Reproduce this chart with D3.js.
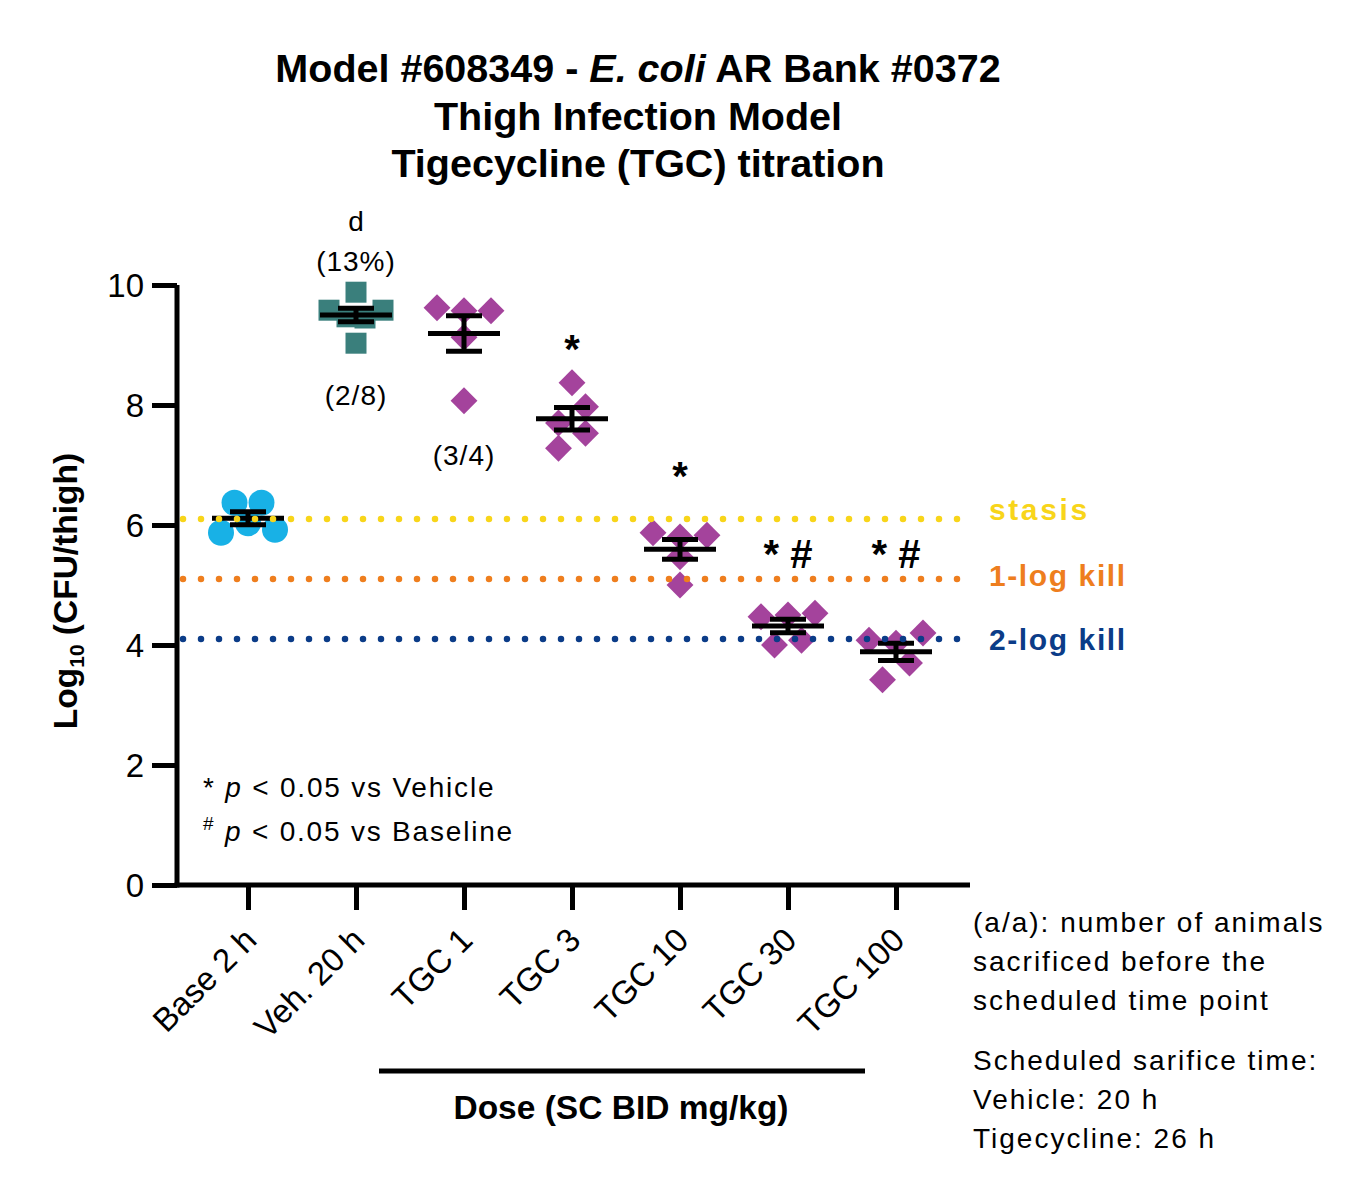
<!DOCTYPE html>
<html>
<head>
<meta charset="utf-8">
<script src="https://cdn.jsdelivr.net/npm/d3@7.9.0/dist/d3.min.js"></script>
<style>
  body { margin: 0; background: #fff; }
  svg text { font-family: "Liberation Sans", Arial, sans-serif; fill: #000; }
</style>
</head>
<body>
<svg id="chart" width="1361" height="1201"></svg>
<script>
// Categories and per-animal log10 CFU values
const groups = ['Base 2 h', 'Veh. 20 h', 'TGC 1', 'TGC 3', 'TGC 10', 'TGC 30', 'TGC 100'];
const base = [6.37, 6.37, 5.87, 6.03, 5.92];
const vehicle = [9.88, 9.58, 9.47, 9.45, 9.58, 9.03];
const tgc1 = [9.62, 9.57, 9.57, 9.13, 8.07];
const tgc3 = [8.37, 7.7, 7.97, 7.28, 7.53];
const tgc10 = [5.87, 5.8, 5.83, 5.47, 5.0];
const tgc30 = [4.47, 4.5, 4.53, 4.0, 4.08];
const tgc100 = [4.08, 4.03, 4.2, 3.42, 3.7];
const seriesValues = [base, vehicle, tgc1, tgc3, tgc10, tgc30, tgc100];
const markerType = ['circle', 'square', 'diamond', 'diamond', 'diamond', 'diamond', 'diamond'];

// reference lines
const refLabels = ['stasis', '1-log kill', '2-log kill'];
const refValues = [6.1, 5.1, 4.1];
const refColors = ['#F8D51A', '#EE7E1E', '#0B3C88'];

// annotations above / below groups
const sigMarks = ['', '', '', '*', '*', '* #', '* #'];
const sigValues = [null, null, null, 8.9, 6.78, 5.48, 5.48];
const earlyLabels = [null, '(2/8)', '(3/4)', null, null, null, null];
const earlyValues = [null, 8.17, 7.17, null, null, null, null];
const yTicks = [0, 2, 4, 6, 8, 10];

const colors = { circle: '#18B1E6', square: '#3A7F7C', diamond: '#A4439C' };

const svg = d3.select('#chart');

const x = d3.scalePoint().domain(groups).range([248, 896]);
const y = d3.scaleLinear().domain([0, 10]).range([885, 285]);

// Title
const title = svg.append('text')
  .attr('x', 638).attr('text-anchor', 'middle')
  .style('font-weight', 'bold').style('font-size', '39.5px');
const t1 = title.append('tspan').attr('x', 638).attr('y', 82);
t1.append('tspan').text('Model #608349 - ');
t1.append('tspan').style('font-style', 'italic').text('E. coli');
t1.append('tspan').text(' AR Bank #0372');
title.append('tspan').attr('x', 638).attr('y', 130).text('Thigh Infection Model');
title.append('tspan').attr('x', 638).attr('y', 177).text('Tigecycline (TGC) titration');

// lay out points in rows the way the scatter columns spread them
function spread(vals, w, maxHalf) {
  const idx = vals.map((v, i) => i).sort((a, b) => vals[b] - vals[a]);
  const rows = [];
  idx.forEach(i => {
    const r = rows[rows.length - 1];
    if (r && vals[r[0]] - vals[i] < 0.29) r.push(i); else rows.push([i]);
  });
  const off = new Array(vals.length).fill(0);
  rows.forEach(r => {
    r.sort((a, b) => a - b);
    const n = r.length;
    const step = n > 1 ? Math.min(w, 2 * maxHalf / (n - 1)) : 0;
    r.forEach((i, k) => off[i] = (k - (n - 1) / 2) * step);
  });
  return off;
}

const symbols = {
  circle: d3.symbol().type(d3.symbolCircle).size(Math.PI * 13 * 13),
  square: d3.symbol().type(d3.symbolSquare).size(21 * 21),
  diamond: d3.symbol().type(d3.symbolSquare).size(19 * 19)
};

// points
seriesValues.forEach((vals, gi) => {
  const off = spread(vals, 27, 27);
  const type = markerType[gi];
  svg.append('g').selectAll('path')
    .data(vals)
    .join('path')
    .attr('d', symbols[type])
    .attr('fill', colors[type])
    .attr('transform', (d, i) => `translate(${x(groups[gi]) + off[i]},${y(d)})` + (type === 'diamond' ? ' rotate(45)' : ''));
});

// mean and SEM bars
seriesValues.forEach((vals, gi) => {
  const m = d3.mean(vals);
  const sem = d3.deviation(vals) / Math.sqrt(vals.length);
  const cx = x(groups[gi]);
  const g = svg.append('g').attr('stroke', '#000').attr('stroke-width', 5);
  g.append('line').attr('x1', cx - 36).attr('x2', cx + 36).attr('y1', y(m)).attr('y2', y(m));
  g.append('line').attr('x1', cx).attr('x2', cx).attr('y1', y(m + sem)).attr('y2', y(m - sem));
  g.append('line').attr('x1', cx - 18).attr('x2', cx + 18).attr('y1', y(m + sem)).attr('y2', y(m + sem));
  g.append('line').attr('x1', cx - 18).attr('x2', cx + 18).attr('y1', y(m - sem)).attr('y2', y(m - sem));
});

// dotted reference lines and labels
const refLabelShift = [1, 7, 11];
refValues.forEach((v, i) => {
  svg.append('line')
    .attr('x1', 183).attr('x2', 970).attr('y1', y(v)).attr('y2', y(v))
    .attr('stroke', refColors[i]).attr('stroke-width', 6.5)
    .attr('stroke-linecap', 'round').attr('stroke-dasharray', '0 18');
  svg.append('text')
    .attr('x', 989).attr('y', y(v) + refLabelShift[i])
    .style('font-weight', 'bold').style('font-size', '30px')
    .style('letter-spacing', i === 0 ? '2.6px' : '1.6px')
    .style('fill', refColors[i])
    .text(refLabels[i]);
});

// axes
const yAxis = svg.append('g')
  .attr('transform', 'translate(177,0)')
  .call(d3.axisLeft(y).tickValues(yTicks).tickSize(25).tickPadding(8));
const xAxis = svg.append('g')
  .attr('transform', 'translate(0,885)')
  .call(d3.axisBottom(x).tickSize(25).tickSizeOuter(0));

[yAxis, xAxis].forEach(a => {
  a.select('.domain').remove();
  a.selectAll('.tick line').attr('stroke', '#000').attr('stroke-width', 5);
});
yAxis.selectAll('.tick text')
  .style('font-size', '33px').attr('dy', '0.35em').attr('fill', '#000');
xAxis.selectAll('.tick text')
  .style('font-size', '33px').attr('fill', '#000')
  .attr('text-anchor', 'end')
  .attr('dy', null).attr('y', null)
  .attr('transform', 'translate(10,57) rotate(-45)');

svg.append('line').attr('x1', 177).attr('x2', 177).attr('y1', 285).attr('y2', 887.5)
  .attr('stroke', '#000').attr('stroke-width', 5);
svg.append('line').attr('x1', 174.5).attr('x2', 970).attr('y1', 885).attr('y2', 885)
  .attr('stroke', '#000').attr('stroke-width', 5);

// y axis title
const yt = svg.append('text')
  .attr('transform', 'translate(77,591) rotate(-90)')
  .attr('text-anchor', 'middle')
  .style('font-weight', 'bold').style('font-size', '33.5px');
yt.append('tspan').text('Log');
yt.append('tspan').style('font-size', '21px').attr('dy', 7).text('10');
yt.append('tspan').attr('dy', -7).text(' (CFU/thigh)');

// dose bracket and label
svg.append('line')
  .attr('x1', x('TGC 1') - 85).attr('x2', x('TGC 100') - 31)
  .attr('y1', 1071).attr('y2', 1071)
  .attr('stroke', '#000').attr('stroke-width', 5);
svg.append('text')
  .attr('x', 621).attr('y', 1119).attr('text-anchor', 'middle')
  .style('font-weight', 'bold').style('font-size', '33.5px')
  .text('Dose (SC BID mg/kg)');

// annotations
svg.append('text').attr('x', x('Veh. 20 h')).attr('y', 231).attr('text-anchor', 'middle')
  .style('font-size', '28px').text('d');
svg.append('text').attr('x', x('Veh. 20 h')).attr('y', 271).attr('text-anchor', 'middle')
  .style('font-size', '28px').style('letter-spacing', '1px').text('(13%)');

earlyLabels.forEach((t, i) => {
  if (!t) return;
  svg.append('text').attr('x', x(groups[i])).attr('y', y(earlyValues[i]) + 10)
    .attr('text-anchor', 'middle').style('font-size', '28px').style('letter-spacing', '1px').text(t);
});
sigMarks.forEach((t, i) => {
  if (!t) return;
  svg.append('text').attr('x', x(groups[i])).attr('y', y(sigValues[i]) + 12)
    .attr('text-anchor', 'middle').style('font-weight', 'bold').style('font-size', '40px')
    .text(t);
});

// significance key
const k1 = svg.append('text').attr('x', 203).attr('y', 797)
  .style('font-size', '28px').style('letter-spacing', '1.8px');
k1.append('tspan').text('* ');
k1.append('tspan').style('font-style', 'italic').text('p');
k1.append('tspan').text(' < 0.05 vs Vehicle');
const k2 = svg.append('text').attr('x', 203).attr('y', 841)
  .style('font-size', '28px').style('letter-spacing', '1.8px');
k2.append('tspan').style('font-size', '19px').attr('dy', -11).text('#');
k2.append('tspan').attr('dy', 11).text(' ');
k2.append('tspan').style('font-style', 'italic').text('p');
k2.append('tspan').text(' < 0.05 vs Baseline');

// footnotes on the right
const notes = [
  ['(a/a): number of animals', 932],
  ['sacrificed before the', 971],
  ['scheduled time point', 1010],
  ['Scheduled sarifice time:', 1070],
  ['Vehicle: 20 h', 1109],
  ['Tigecycline: 26 h', 1148]
];
notes.forEach(([t, yy]) => {
  svg.append('text').attr('x', 973).attr('y', yy)
    .style('font-size', '28px').style('letter-spacing', '2px').text(t);
});
</script>
</body>
</html>
